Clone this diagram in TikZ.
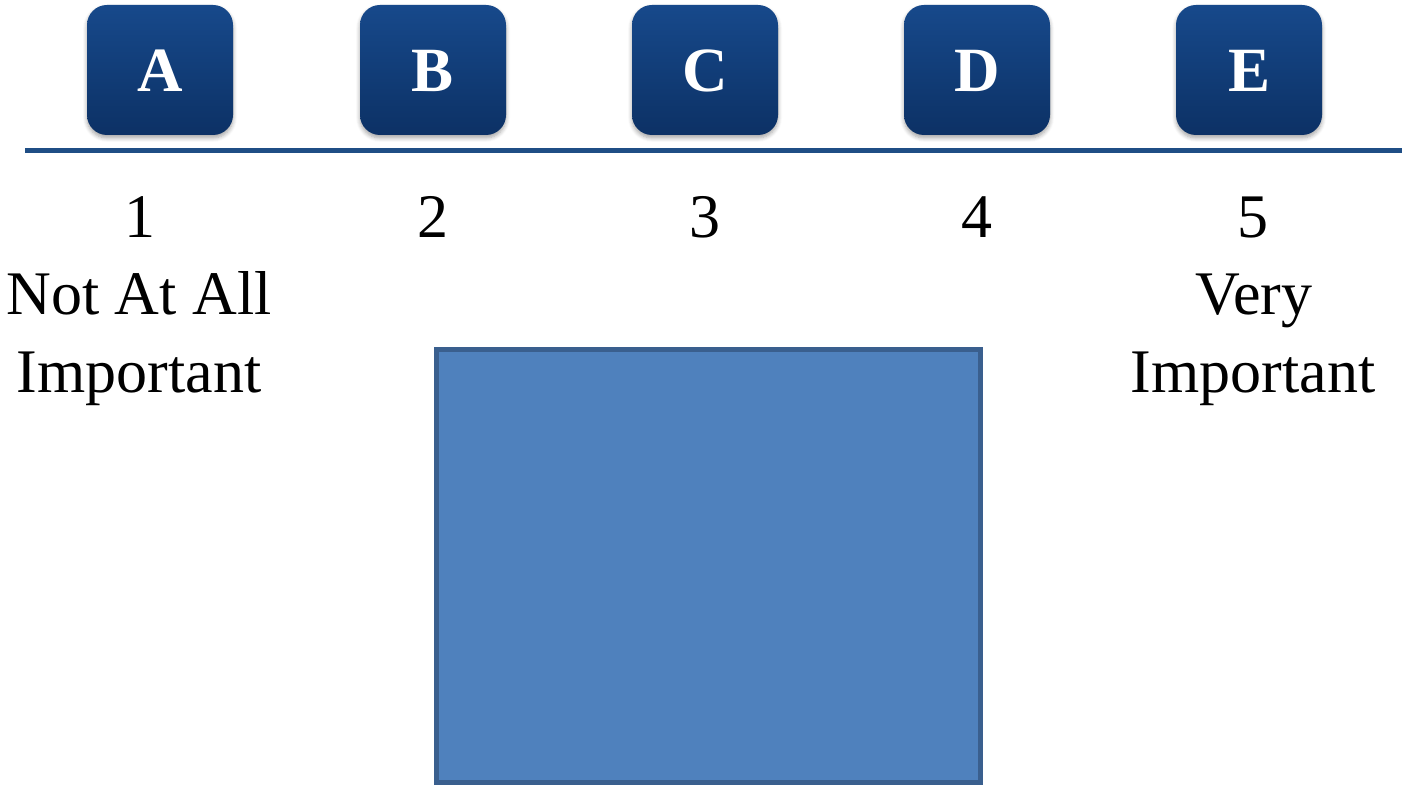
\documentclass[tikz,border=0pt]{standalone}
\usepackage{fontspec}
\setmainfont{Liberation Serif}
\usetikzlibrary{shadows.blur}
\definecolor{btntop}{HTML}{17498B}
\definecolor{btnbot}{HTML}{0C3165}
\definecolor{axis}{HTML}{1F4E85}
\definecolor{boxfill}{HTML}{4F81BD}
\definecolor{boxdraw}{HTML}{3A5F8E}
\tikzset{
  btn/.style={rounded corners=20pt, minimum width=146pt, minimum height=130pt,
    top color=btntop, bottom color=btnbot, draw=none, text=white,
    font=\fontsize{63}{70}\selectfont\bfseries, text height=43pt, text depth=0pt, inner sep=0pt,
    blur shadow={shadow xshift=0pt, shadow yshift=-3pt, shadow blur steps=6, shadow blur radius=4pt, shadow opacity=35}},
  lbl/.style={anchor=base, font=\fontsize{62}{76}\selectfont, inner sep=0pt, text=black},
}
\begin{document}
\begin{tikzpicture}[x=1pt, y=-1pt]
\useasboundingbox (0,0) rectangle (1402,786);
% buttons
\node[btn] (A) at (160,70) {A};
\node[btn] (B) at (433,70) {B};
\node[btn] (C) at (705,70) {C};
\node[btn] (D) at (977,70) {D};
\node[btn] (E) at (1249,70) {E};
% axis line
\coordinate (l0) at (25,151);
\coordinate (l1) at (1402,151);
\draw[axis, line width=5pt] (l0) -- (l1);
% numbers
\node[lbl] (n1) at (140,238) {1};
\node[lbl] (n2) at (433,238) {2};
\node[lbl] (n3) at (705,238) {3};
\node[lbl] (n4) at (977,238) {4};
\node[lbl] (n5) at (1253,238) {5};
% end labels
\node[lbl] (t1a) at (139,314) {Not At All};
\node[lbl] (t1b) at (139,392) {Important};
\node[lbl] (t5a) at (1254,314) {Very};
\node[lbl] (t5b) at (1253,392) {Important};
% box
\draw[fill=boxfill, draw=boxdraw, line width=4.5pt] (436.5,349.5) rectangle (980.5,782.5);
\end{tikzpicture}
\end{document}
